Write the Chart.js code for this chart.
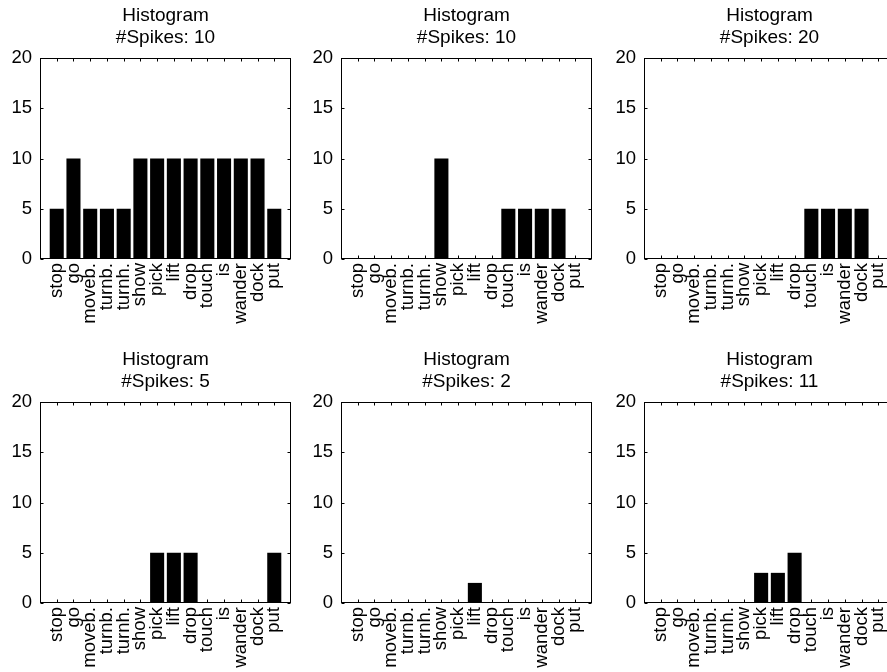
<!DOCTYPE html>
<html>
<head>
<meta charset="utf-8">
<script src="https://cdn.jsdelivr.net/npm/chart.js@4.4.1/dist/chart.umd.min.js"></script>
<style>
  html, body { margin: 0; padding: 0; background: #fff; overflow: hidden; width: 887px; height: 672px; }
  .panel { position: absolute; }
</style>
</head>
<body>
<script>
// ---- data ----
const categories = ['stop','go','moveb.','turnb.','turnh.','show','pick','lift','drop','touch','is','wander','dock','put'];
const spikeCounts = [10, 10, 20, 5, 2, 11];
const histogram1 = [5, 10, 5, 5, 5, 10, 10, 10, 10, 10, 10, 10, 10, 5];
const histogram2 = [0, 0, 0, 0, 0, 10, 0, 0, 0, 5, 5, 5, 5, 0];
const histogram3 = [0, 0, 0, 0, 0, 0, 0, 0, 0, 5, 5, 5, 5, 0];
const histogram4 = [0, 0, 0, 0, 0, 0, 5, 5, 5, 0, 0, 0, 0, 5];
const histogram5 = [0, 0, 0, 0, 0, 0, 0, 2, 0, 0, 0, 0, 0, 0];
const histogram6 = [0, 0, 0, 0, 0, 0, 3, 3, 5, 0, 0, 0, 0, 0];
const yTicks = [0, 5, 10, 15, 20];
const titleText = 'Histogram';
const spikesPrefix = '#Spikes: ';

const histograms = [histogram1, histogram2, histogram3, histogram4, histogram5, histogram6];

// ---- layout ----
const FONT = "'Liberation Sans', Arial, Helvetica, sans-serif";
const plotLefts = [40, 341, 644];
const plotTops = [58, 402];
const PLOT_W = 251, PLOT_H = 201;
const MARGIN_L = 40, MARGIN_R = 40, MARGIN_T = 58;
const CANVAS_W = MARGIN_L + PLOT_W + MARGIN_R, CANVAS_H = 349;

const frameTicks = {
  id: 'frameTicks',
  afterDatasetsDraw(chart) {
    const { ctx, chartArea, scales } = chart;
    const x = scales.x, y = scales.y;
    const L = Math.round(chartArea.left) + 0.5;
    const R = Math.round(chartArea.right) - 0.5;
    const T = Math.round(chartArea.top) + 0.5;
    const B = Math.round(chartArea.bottom) - 0.5;
    const len = 3;
    ctx.save();
    ctx.strokeStyle = '#000';
    ctx.lineWidth = 1;
    ctx.beginPath();
    yTicks.forEach(v => {
      const py = Math.round(y.getPixelForValue(v)) + 0.5;
      ctx.moveTo(L, py); ctx.lineTo(L + len, py);
      ctx.moveTo(R, py); ctx.lineTo(R - len, py);
    });
    for (let i = 1; i <= categories.length; i++) {
      const px = Math.round(x.getPixelForTick(i)) + 0.5;
      ctx.moveTo(px, T); ctx.lineTo(px, T + len);
      ctx.moveTo(px, B); ctx.lineTo(px, B - len);
    }
    ctx.stroke();
    ctx.strokeRect(L, T, R - L, B - T);
    ctx.restore();
  }
};

const paddedLabels = [''].concat(categories, ['']);

histograms.forEach((vals, idx) => {
  const col = idx % 3, row = Math.floor(idx / 3);
  const div = document.createElement('div');
  div.className = 'panel';
  div.style.left = (plotLefts[col] - MARGIN_L) + 'px';
  div.style.top = (plotTops[row] - MARGIN_T) + 'px';
  const cv = document.createElement('canvas');
  cv.width = CANVAS_W; cv.height = CANVAS_H;
  cv.style.width = CANVAS_W + 'px'; cv.style.height = CANVAS_H + 'px';
  div.appendChild(cv);
  document.body.appendChild(div);

  new Chart(cv.getContext('2d'), {
    type: 'bar',
    data: {
      labels: paddedLabels,
      datasets: [{
        data: [null].concat(vals, [null]),
        backgroundColor: '#000',
        borderWidth: 0,
        barPercentage: 0.84,
        categoryPercentage: 1.0
      }]
    },
    options: {
      responsive: false,
      animation: false,
      devicePixelRatio: 1,
      layout: { padding: { left: 0, right: MARGIN_R, top: 0, bottom: 0 } },
      plugins: {
        legend: { display: false },
        tooltip: { enabled: false },
        title: {
          display: true,
          fullSize: false,
          text: [titleText, spikesPrefix + spikeCounts[idx]],
          color: '#000',
          font: { family: FONT, size: 19, weight: 'normal', lineHeight: 1.15 },
          padding: { top: 5, bottom: 9.3 }
        }
      },
      scales: {
        x: {
          type: 'category',
          offset: false,
          grid: { display: false, offset: false, drawTicks: false },
          border: { display: false },
          ticks: {
            autoSkip: false,
            minRotation: 90,
            maxRotation: 90,
            padding: 4,
            color: '#000',
            font: { family: FONT, size: 18.5 }
          },
          afterFit(scale) { scale.height = CANVAS_H - MARGIN_T - PLOT_H; }
        },
        y: {
          min: 0,
          max: 20,
          grid: { display: false, drawTicks: false },
          border: { display: false },
          afterBuildTicks(scale) { scale.ticks = yTicks.map(v => ({ value: v })); },
          ticks: {
            padding: 8,
            color: '#000',
            font: { family: FONT, size: 18.5 }
          },
          afterFit(scale) { scale.width = MARGIN_L; }
        }
      }
    },
    plugins: [frameTicks]
  });
});
</script>
</body>
</html>
